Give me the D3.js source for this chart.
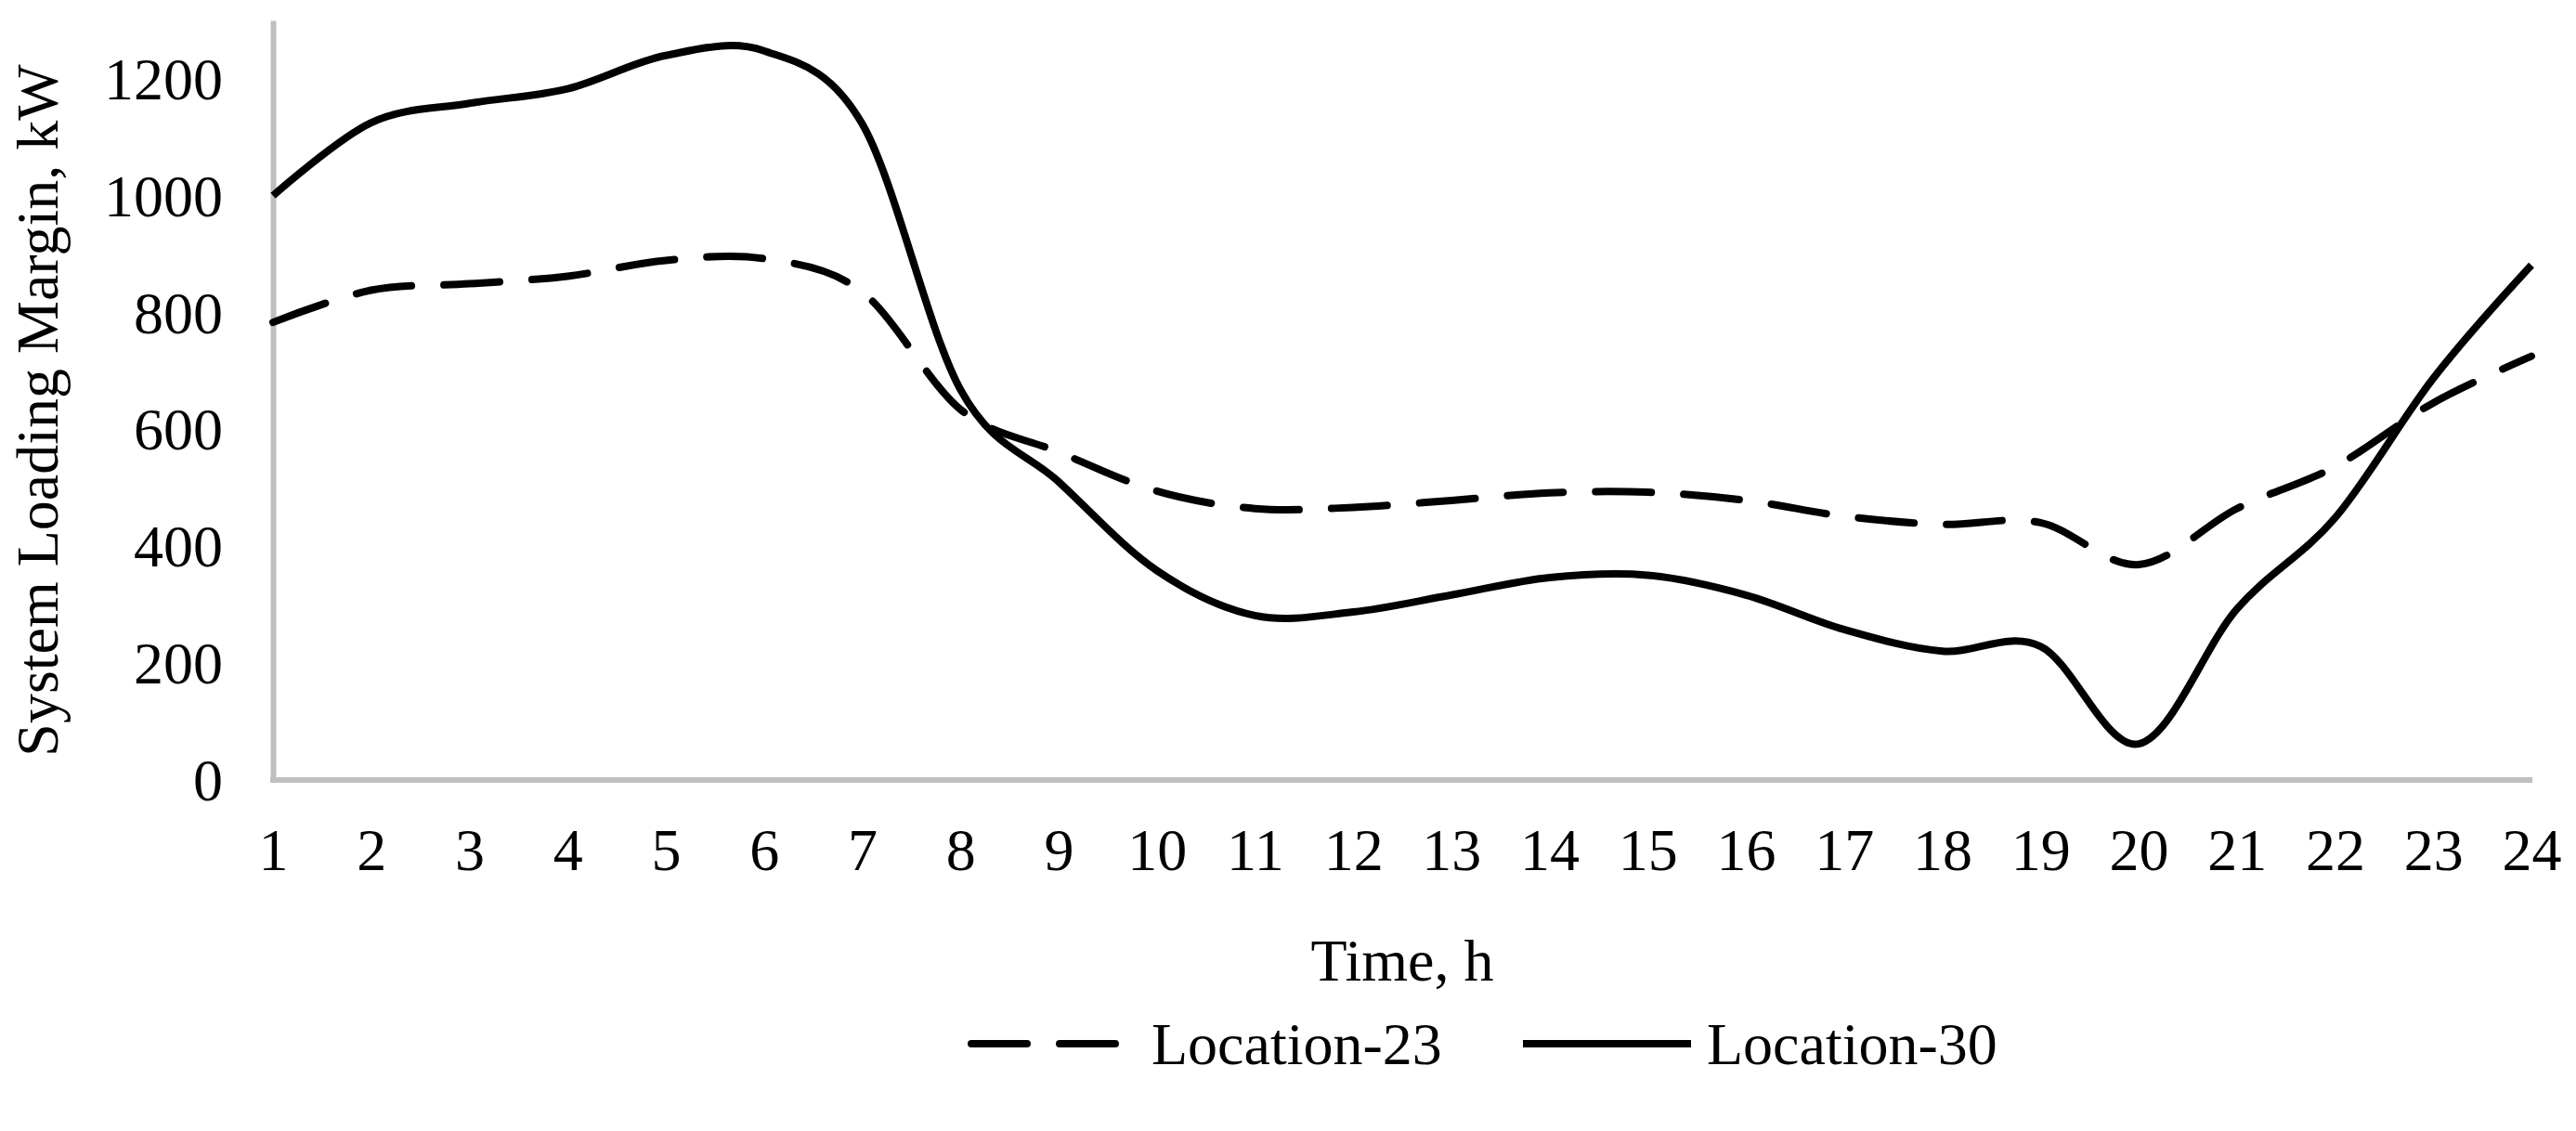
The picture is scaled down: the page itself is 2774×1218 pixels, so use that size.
<!DOCTYPE html>
<html>
<head>
<meta charset="utf-8">
<script src="https://cdn.jsdelivr.net/npm/d3@7"></script>
<style>
  html, body { margin: 0; padding: 0; background: #ffffff; }
  svg { display: block; }
</style>
</head>
<body>
<svg id="chart" width="2774" height="1218"></svg>
<script>
// ---- data ----
const hours = [1, 2, 3, 4, 5, 6, 7, 8, 9, 10, 11, 12, 13, 14, 15, 16, 17, 18, 19, 20, 21, 22, 23, 24];
const xTickLabels = ["1","2","3","4","5","6","7","8","9","10","11","12","13","14","15","16","17","18","19","20","21","22","23","24"];
const yTickValues = [0, 200, 400, 600, 800, 1000, 1200];
const yTickLabels = ["0", "200", "400", "600", "800", "1000", "1200"];
const location23 = [783, 838, 849, 862, 889, 892, 835, 634, 561, 494, 464, 466, 478, 491, 492, 478, 451, 437, 440, 368, 464, 536, 645, 725];
const location30 = [1000, 1125, 1158, 1183, 1240, 1248, 1123, 668, 510, 358, 281, 287, 316, 346, 350, 316, 257, 220, 228, 61, 292, 448, 687, 881];
const seriesNames = ["Location-23", "Location-30"];
const xTitle = "Time, h";
const yTitle = "System Loading Margin, kW";

// ---- layout ----
const FONT = "'Liberation Serif', 'Times New Roman', serif";
const FS = 64;
const svg = d3.select("#chart");

const x = d3.scaleLinear().domain([1, 24]).range([294, 2726]);
const y = d3.scaleLinear().domain([0, 1300]).range([839.5, 22]);

// y axis
const gy = svg.append("g").attr("transform", "translate(294,0)")
  .call(d3.axisLeft(y).tickValues(yTickValues).tickFormat((d, i) => yTickLabels[i])
    .tickSize(0).tickSizeOuter(0).tickPadding(54));
gy.select(".domain").attr("stroke", "#bfbfbf").attr("stroke-width", 6);
gy.selectAll("text").attr("font-family", FONT).attr("font-size", FS).attr("fill", "#000").attr("dy", "0.34em");

// x axis
const gx = svg.append("g").attr("transform", "translate(0,840)")
  .call(d3.axisBottom(x).tickValues(hours).tickFormat((d, i) => xTickLabels[i]).tickSize(0).tickSizeOuter(0));
gx.select(".domain").attr("stroke", "#bfbfbf").attr("stroke-width", 6)
  .attr("d", `M${x(1) - 3},0H${x(24) + 1}`);
gx.selectAll("text").attr("font-family", FONT).attr("font-size", FS).attr("fill", "#000")
  .attr("y", 97).attr("dy", null);

// axis titles
svg.append("text")
  .attr("transform", "translate(62,442) rotate(-90)")
  .attr("text-anchor", "middle")
  .attr("font-family", FONT).attr("font-size", FS).attr("fill", "#000")
  .text(yTitle);
svg.append("text")
  .attr("x", (x(1) + x(24)) / 2).attr("y", 1056)
  .attr("text-anchor", "middle")
  .attr("font-family", FONT).attr("font-size", FS).attr("fill", "#000")
  .text(xTitle);

// lines
const line = d3.line()
  .x((d, i) => x(hours[i]))
  .y(d => y(d))
  .curve(d3.curveCardinal.tension(0));

svg.append("path").datum(location23)
  .attr("d", line)
  .attr("fill", "none").attr("stroke", "#000").attr("stroke-width", 8)
  .attr("stroke-dasharray", "60,35").attr("stroke-linecap", "round").attr("stroke-linejoin", "round");

svg.append("path").datum(location30)
  .attr("d", line)
  .attr("fill", "none").attr("stroke", "#000").attr("stroke-width", 8)
  .attr("stroke-linecap", "butt").attr("stroke-linejoin", "round");

// legend
const legendY = 1124;
const leg = svg.append("g");
leg.append("line").attr("x1", 1046).attr("x2", 1206).attr("y1", legendY).attr("y2", legendY)
  .attr("stroke", "#000").attr("stroke-width", 8).attr("stroke-dasharray", "60,35").attr("stroke-linecap", "round");
leg.append("text").attr("x", 1240).attr("y", legendY).attr("dy", "0.34em")
  .attr("font-family", FONT).attr("font-size", FS).attr("fill", "#000").text(seriesNames[0]);
leg.append("line").attr("x1", 1640).attr("x2", 1821).attr("y1", legendY).attr("y2", legendY)
  .attr("stroke", "#000").attr("stroke-width", 8);
leg.append("text").attr("x", 1838).attr("y", legendY).attr("dy", "0.34em")
  .attr("font-family", FONT).attr("font-size", FS).attr("fill", "#000").text(seriesNames[1]);
</script>
</body>
</html>
